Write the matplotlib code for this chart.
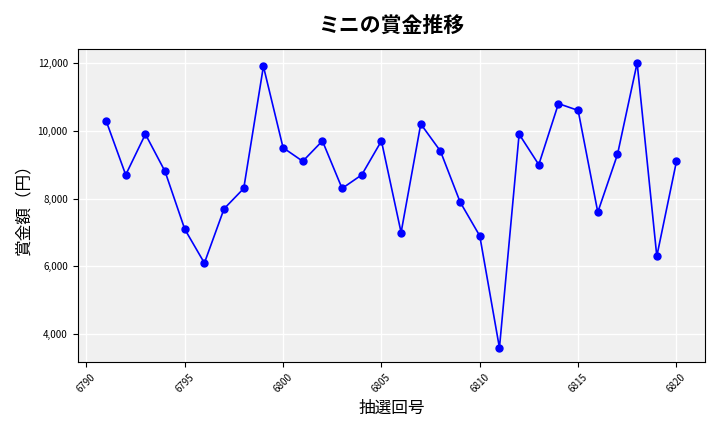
import matplotlib
matplotlib.use('Agg')
import matplotlib.pyplot as plt
from matplotlib.ticker import FuncFormatter

plt.rcParams['font.family'] = ['Noto Sans CJK JP', 'DejaVu Sans']

draws = list(range(6791, 6821))
prizes = [10300, 8700, 9900, 8800, 7100, 6100, 7700, 8300, 11900, 9500,
          9100, 9700, 8300, 8700, 9700, 7000, 10200, 9400, 7900, 6900,
          3600, 9900, 9000, 10800, 10600, 7600, 9300, 12000, 6300, 9100]

fig, ax = plt.subplots(figsize=(7.2, 4.32), dpi=100)
ax.set_facecolor('#f0f0f0')
ax.plot(draws, prizes, color='blue', marker='o', markersize=5, linewidth=1.2)
ax.grid(True, color='white', linewidth=1)
ax.set_axisbelow(True)
ax.set_title('ミニの賞金推移', fontsize=15, fontweight='bold', pad=12)
ax.set_xlabel('抽選回号', fontsize=12)
ax.set_ylabel('賞金額（円）', fontsize=12)
ax.yaxis.set_major_formatter(FuncFormatter(lambda v, p: '{:,.0f}'.format(v)))
ax.set_yticks([4000, 6000, 8000, 10000, 12000])
ax.set_xticks(range(6790, 6821, 5))
ax.tick_params(axis='x', labelrotation=45, labelsize=7)
ax.tick_params(axis='y', labelsize=7)
plt.tight_layout()
plt.savefig('out.png')
plt.close()
